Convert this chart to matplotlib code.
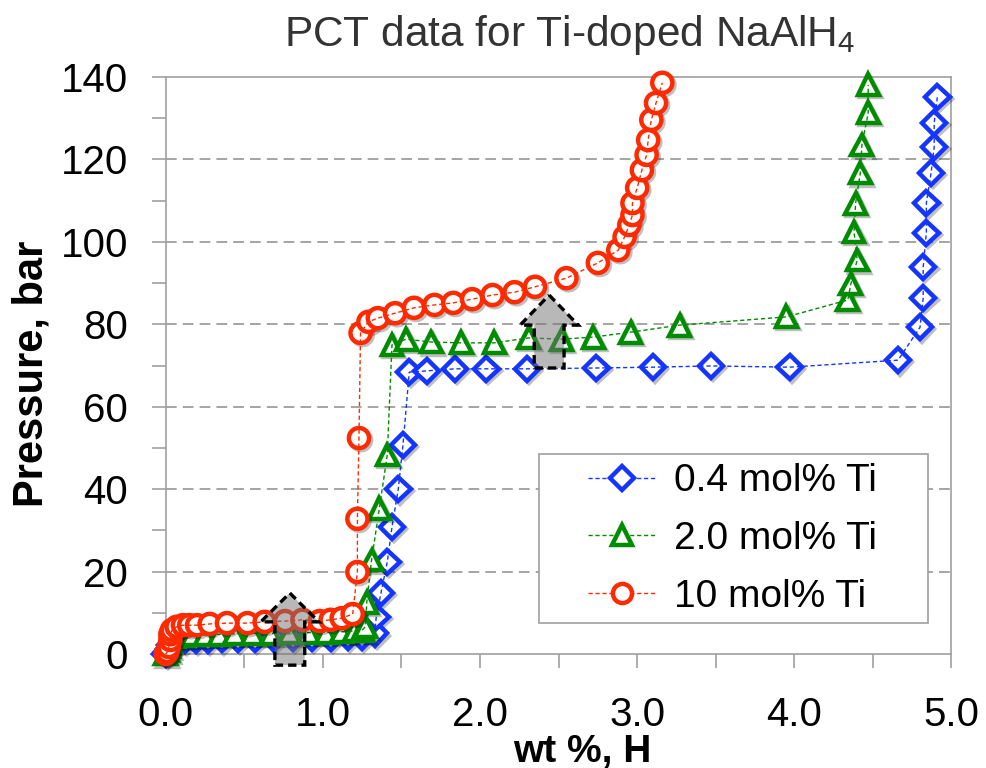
import numpy as np
import matplotlib
matplotlib.use("Agg")
import matplotlib.pyplot as plt
import matplotlib.patheffects as pe
from matplotlib.patches import Polygon, Rectangle

plt.rcParams['font.family'] = ['Liberation Sans', 'DejaVu Sans']
plt.rcParams['mathtext.fontset'] = 'custom'
plt.rcParams['mathtext.rm'] = 'Liberation Sans'

# 0.4 mol% Ti
wt_04 = [0.00, 0.01, 0.02, 0.03, 0.06, 0.12, 0.19, 0.27, 0.36, 0.46, 0.57, 0.69, 0.81, 0.93,
         1.05, 1.16, 1.25, 1.33, 1.34, 1.37, 1.41, 1.44, 1.48, 1.51, 1.55, 1.66, 1.84, 2.04,
         2.30, 2.74, 3.10, 3.47, 3.97, 4.66, 4.80, 4.82, 4.82, 4.84, 4.84, 4.87, 4.89, 4.89, 4.91]
p_04 = [0.0, 0.5, 1.2, 2.2, 3.2, 3.4, 3.5, 3.5, 3.6, 3.7, 3.7, 3.8, 3.9, 3.9,
        4.0, 4.1, 4.2, 5.0, 9.0, 14.8, 22.3, 30.8, 40.0, 50.7, 68.4, 68.7, 69.2, 69.2,
        69.2, 69.4, 69.6, 69.9, 69.6, 71.3, 79.3, 86.4, 93.9, 102.2, 109.4, 116.7, 123.0, 128.9, 135.2]

# 2.0 mol% Ti
wt_20 = [0.00, 0.01, 0.02, 0.03, 0.05, 0.10, 0.17, 0.25, 0.34, 0.44, 0.55, 0.67, 0.79, 0.91,
         1.02, 1.12, 1.20, 1.25, 1.27, 1.28, 1.31, 1.36, 1.41, 1.44, 1.53, 1.69, 1.88, 2.09,
         2.31, 2.52, 2.72, 2.96, 3.27, 3.95, 4.34, 4.36, 4.40, 4.38, 4.39, 4.42, 4.43, 4.47, 4.47]
p_20 = [0.0, 0.8, 1.8, 3.0, 4.3, 4.5, 4.6, 4.7, 4.8, 4.9, 5.0, 5.0, 5.1, 5.2,
        5.3, 5.4, 5.6, 5.8, 6.6, 12.6, 22.8, 35.4, 48.3, 75.0, 76.4, 75.7, 75.5, 75.5,
        76.7, 76.4, 76.9, 78.1, 79.8, 81.8, 85.9, 89.8, 95.6, 102.4, 109.4, 116.7, 123.5, 131.3, 138.1]

# 10 mol% Ti
wt_10 = [0.00, 0.01, 0.02, 0.03, 0.03, 0.04, 0.07, 0.11, 0.15, 0.20, 0.28, 0.39, 0.52, 0.63,
         0.76, 0.87, 0.98, 1.05, 1.12, 1.19, 1.22, 1.22, 1.23, 1.24, 1.29, 1.35, 1.46, 1.58,
         1.71, 1.83, 1.95, 2.08, 2.22, 2.35, 2.55, 2.75, 2.88, 2.92, 2.95, 2.97, 2.97, 3.00,
         3.03, 3.06, 3.07, 3.09, 3.12, 3.16]
p_10 = [0.0, 0.5, 1.7, 3.4, 4.8, 5.8, 6.6, 7.0, 7.0, 7.0, 7.3, 7.5, 7.5, 7.8,
        8.0, 8.3, 8.0, 8.3, 8.7, 9.7, 19.9, 32.8, 52.4, 77.9, 80.6, 81.5, 82.7, 84.0,
        84.7, 85.2, 86.1, 87.1, 87.8, 89.1, 91.2, 94.9, 98.0, 101.2, 104.1, 106.5, 109.4, 113.1,
        117.4, 121.1, 124.7, 129.6, 133.7, 138.6]

labels = ['0.4 mol% Ti', '2.0 mol% Ti', '10 mol% Ti']
colors = ['#1434ff', '#008c00', '#ff2a00']
markers = ['D', '^', 'o']
msizes = [12.5, 15, 14.5]

x_ticks = [0.0, 0.5, 1.0, 1.5, 2.0, 2.5, 3.0, 3.5, 4.0, 4.5, 5.0]
x_ticklabels = ['0.0', '', '1.0', '', '2.0', '', '3.0', '', '4.0', '', '5.0']
y_ticks = list(range(0, 141, 10))
y_ticklabels = [str(v) if v % 20 == 0 else '' for v in y_ticks]

# up-arrows marking the plateaus: (centre x, tip, head base, bottom)
arrows = [(0.79, 14.8, 7.8, -2.7), (2.44, 87.1, 79.8, 69.4)]

fig = plt.figure(figsize=(9.86, 7.68), dpi=100)
ax = fig.add_axes([0.168, 0.1484, 0.797, 0.7513])

ax.set_xlim(0, 5)
ax.set_ylim(0, 140)
for v in range(20, 140, 20):
    ax.axhline(v, color='#8c8c8c', lw=1.1, ls=(0, (7, 4)), zorder=0.5)

shadow = [pe.SimpleLineShadow(offset=(1.5, -1.5), shadow_color='black', alpha=0.25),
          pe.Normal()]

series = [(wt_04, p_04), (wt_20, p_20), (wt_10, p_10)]
for i, (x, y) in enumerate(series):
    ax.plot(x, y, ls='none', marker=markers[i], ms=msizes[i], mew=3.2, mfc='white',
            mec=colors[i], clip_on=False, zorder=3 + i * 0.2, path_effects=shadow)
    ax.plot(x, y, ls='--', dashes=(3, 2), lw=1, color=colors[i], clip_on=False,
            zorder=3.1 + i * 0.2)
    # legend entry only
    ax.plot([], [], ls='--', dashes=(3, 2), lw=1, color=colors[i], marker=markers[i],
            ms=msizes[i] * 0.95, mew=3.2, mfc='white', mec=colors[i], label=labels[i])

for xc, tip, base, bottom in arrows:
    shw, hhw = 0.095, 0.185
    pts = [(xc, tip), (xc + hhw, base), (xc + shw, base), (xc + shw, bottom),
           (xc - shw, bottom), (xc - shw, base), (xc - hhw, base)]
    ax.add_patch(Polygon(pts, closed=True, facecolor=(0.45, 0.45, 0.45, 0.5),
                         edgecolor='black', lw=2.4, ls=(0, (2.5, 1.5)),
                         clip_on=False, zorder=5))

ax.set_xticks(x_ticks)
ax.set_xticklabels(x_ticklabels)
ax.set_yticks(y_ticks)
ax.set_yticklabels(y_ticklabels)
ax.tick_params(axis='both', direction='out', length=10, width=1.2, color='#a0a0a0',
               labelsize=29)
ax.tick_params(axis='x', pad=20)
ax.tick_params(axis='y', pad=17)
for s in ax.spines.values():
    s.set_color('#a0a0a0')
    s.set_linewidth(1.2)

ax.set_title('PCT data for Ti-doped NaAlH$_\\mathregular{4}$', fontsize=30.5,
             color='#333333', pad=22, x=0.514)
ax.set_xlabel('wt %, H', fontsize=28, fontweight='bold')
ax.xaxis.set_label_coords(0.53, -0.138)
ax.set_ylabel('Pressure, bar', fontsize=30, fontweight='bold')
ax.yaxis.set_label_coords(-0.145, 0.485)

# legend box
ax.add_patch(Rectangle((0.4746, 0.0537), 0.496, 0.293, transform=ax.transAxes,
                       facecolor='white', edgecolor='#a0a0a0', lw=1.2, zorder=2))
ax.legend(loc='center left', bbox_to_anchor=(0.5127, 0.1993), frameon=False,
          fontsize=28, borderpad=0, handlelength=1.75, handletextpad=0.46,
          labelspacing=0.56)

fig.savefig('out.png', dpi=100)
